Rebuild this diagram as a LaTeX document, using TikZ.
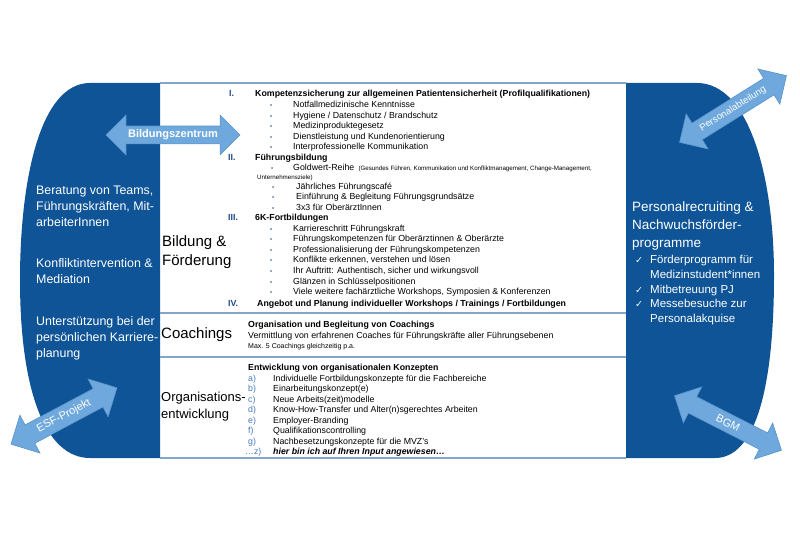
\documentclass[tikz,border=0pt]{standalone}
\usepackage{fontspec}
\setmainfont{Liberation Sans}
\newfontfamily\symfont{DejaVu Sans}
\usetikzlibrary{shapes.arrows}

\definecolor{darkblue}{RGB}{14,84,151}
\definecolor{lightblue}{RGB}{111,168,220}
\definecolor{rulecol}{RGB}{130,165,200}
\definecolor{numblue}{RGB}{31,73,140}
\definecolor{letterblue}{RGB}{70,120,190}
\newcommand{\fs}[2]{\fontsize{#1}{#2}\selectfont}

\begin{document}
\begin{tikzpicture}[x=1pt, y=-1pt,
		txt/.style={anchor=base west, inner sep=0pt, font=\fs{8.8}{10}},
		bold/.style={txt, font=\fs{8.8}{10}\bfseries},
		num/.style={bold, text=numblue},
		lbl/.style={txt, text=letterblue},
		dot/.style={anchor=base west, inner sep=0pt, text=numblue, font=\fs{6}{7}},
		side/.style={anchor=west, inner sep=0pt, align=left, text=white, font=\fs{12.4}{16}},
		check/.style={anchor=base west, inner sep=0pt, text=white, font=\fs{11.5}{14}},
		head/.style={anchor=west, inner sep=0pt, align=left, font=\fs{15}{19}},
		dblarrow/.style={double arrow, double arrow head extend=11pt, fill=lightblue,
			draw=lightblue!75!darkblue, line width=0.6pt, text=white, inner sep=3.5pt}]
		\useasboundingbox (0,0) rectangle (800,537);
		
		\fill[darkblue] (160,83) -- (90,83) .. controls (40,83) and (20,180) .. (20,280)
			.. controls (20,390) and (45,458) .. (90,458) -- (160,458) -- cycle;
		\fill[darkblue] (626,83) -- (697,83) .. controls (750,83) and (774,180) .. (774,275)
			.. controls (774,390) and (755,458) .. (715,458) -- (626,458) -- cycle;
		\foreach \y in {83,313,357,458}
			\draw[rulecol, line width=1.2pt] (160,\y) -- (626,\y);
		
		\node[side] (berat) at (36,206) {Beratung von Teams,\\Führungskräften, Mit-\\arbeiterInnen};
		\node[side] (konfl) at (36,271) {Konfliktintervention \&\\Mediation};
		\node[side] (karr) at (36,338) {Unterstützung bei der\\persönlichen Karriere-\\planung};
		
		\node[head] (bild) at (162,252) {Bildung \&\\Förderung};
		\node[head] (coach) at (161,335) {Coachings};
		\node[head, font=\fs{13}{17}] (orga) at (161,407) {Organisations-\\entwicklung};
		
		\node[num] (n1) at (229,97) {I.};
		\node[bold] (h1) at (255,97) {Kompetenzsicherung zur allgemeinen Patientensicherheit (Profilqualifikationen)};
		\foreach \y/\t in {108/Notfallmedizinische Kenntnisse, 118.5/{Hygiene / Datenschutz / Brandschutz},
				129/Medizinproduktegesetz, 139.5/Dienstleistung und Kundenorientierung,
				150/Interprofessionelle Kommunikation}{
			\node[dot] (d\y) at (270,\y) {•};
			\node[txt] (t\y) at (293,\y) {\t};
		}
		
		\node[num] (n2) at (228,160.5) {II.};
		\node[bold] (h2) at (255,160.5) {Führungsbildung};
		\node[dot] (d171) at (271,171) {•};
		\node[txt] (gold) at (293,171) {Goldwert-Reihe {\fs{6.2}{7} (Gesundes Führen, Kommunikation und Konfliktmanagement, Change-Management,}};
		\node[txt, font=\fs{6.2}{7}] (ziele) at (257,179.5) {Unternehmensziele)};
		\foreach \y/\t in {190/Jährliches Führungscafé, 200/Einführung \& Begleitung Führungsgrundsätze,
				210.5/3x3 für OberärztInnen}{
			\node[dot] (d\y) at (272,\y) {•};
			\node[txt] (t\y) at (296,\y) {\t};
		}
		
		\node[num] (n3) at (228,221) {III.};
		\node[bold] (h3) at (255,221) {6K-Fortbildungen};
		\foreach \y/\t in {231.5/Karriereschritt Führungskraft, 242/Führungskompetenzen für Oberärztinnen \& Oberärzte,
				252.5/Professionalisierung der Führungskompetenzen, 263/Konflikte erkennen{,} verstehen und lösen,
				273.5/{Ihr Auftritt: Authentisch, sicher und wirkungsvoll}, 284/Glänzen in Schlüsselpositionen,
				294.5/{Viele weitere fachärztliche Workshops, Symposien \& Konferenzen}}{
			\node[dot] (d\y) at (270,\y) {•};
			\node[txt] (t\y) at (293,\y) {\t};
		}
		\node[num] (n4) at (228,306) {IV.};
		\node[bold] (h4) at (257,306) {Angebot und Planung individueller Workshops / Trainings / Fortbildungen};
		
		\node[bold] (hc) at (248,327) {Organisation und Begleitung von Coachings};
		\node[txt] (verm) at (248,338) {Vermittlung von erfahrenen Coaches für Führungskräfte aller Führungsebenen};
		\node[txt, font=\fs{7}{8}] (max) at (248,348) {Max. 5 Coachings gleichzeitig p.a.};
		
		\node[bold] (ho) at (248,370) {Entwicklung von organisationalen Konzepten};
		\foreach \y/\l/\t in {381/a)/Individuelle Fortbildungskonzepte für die Fachbereiche,
				391.5/b)/Einarbeitungskonzept(e), 402/c)/Neue Arbeits(zeit)modelle,
				412.5/d)/Know-How-Transfer und Alter(n)sgerechtes Arbeiten, 423/e)/Employer-Branding,
				433.5/f)/Qualifikationscontrolling, 444/g)/Nachbesetzungskonzepte für die MVZ's}{
			\node[lbl] (l\y) at (248,\y) {\l};
			\node[txt] (o\y) at (273,\y) {\t};
		}
		\node[lbl] (lz) at (245,454.5) {\dots z)};
		\node[txt, font=\fs{8.8}{10}\bfseries\itshape] (oz) at (273,454.5) {hier bin ich auf Ihren Input angewiesen\dots};
		
		\node[side, font=\fs{13.5}{18}] (recr) at (632,226) {Personalrecruiting \&\\Nachwuchsförder-\\programme};
		\foreach \y/\c/\t in {264/✓/Förderprogramm für, 278.5//Medizinstudent*innen, 293/✓/Mitbetreuung PJ,
				307.5/✓/Messebesuche zur, 322//Personalakquise}{
			\node[check, font=\symfont\fs{9.5}{10}] (c\y) at (635,\y) {\c};
			\node[check] (f\y) at (650,\y) {\t};
		}
		
		\node[dblarrow, minimum height=134pt, font=\fs{11}{12}\bfseries] (bz) at (173,135) {Bildungszentrum};
		\node[dblarrow, rotate=28, minimum height=120pt, inner sep=5pt, font=\fs{11}{13}] (esf) at (64,416) {ESF-Projekt};
		\node[dblarrow, rotate=32, minimum height=126pt, inner sep=5pt, font=\fs{9.5}{11}] (pers) at (733,109) {Personalabteilung};
		\node[dblarrow, rotate=-27, minimum height=120pt, inner sep=5pt, font=\fs{11}{13}] (bgm) at (728,423) {BGM};
	\end{tikzpicture}
\end{document}
